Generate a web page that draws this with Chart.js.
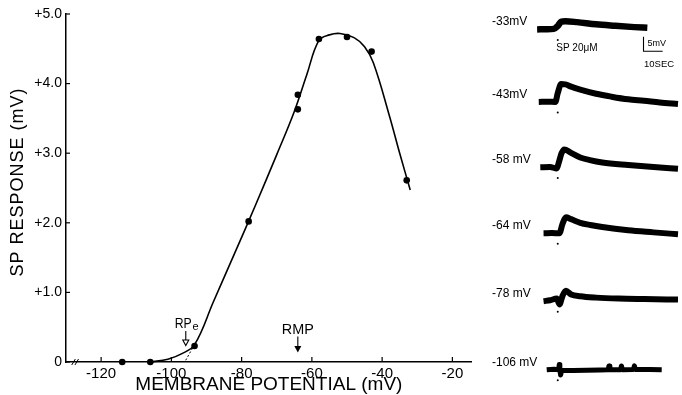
<!DOCTYPE html>
<html><head><meta charset="utf-8">
<script src="https://cdn.jsdelivr.net/npm/chart.js@4.4.1/dist/chart.umd.min.js"></script>
<style>
html,body{margin:0;padding:0;background:#fff;}
#wrap{position:relative;width:682px;height:395px;overflow:hidden;background:#fff;}
#main{position:absolute;left:0;top:0;}
#traces{position:absolute;left:490px;top:0;}
</style></head><body>
<div id="wrap"><canvas id="main" width="490" height="395"></canvas><canvas id="traces" width="192" height="395"></canvas></div>
<script>
// ---------- data: main plot ----------
const pointPotentials = [-114, -106, -93.4, -78, -64, -64, -58, -50, -43, -33];
const pointResponses  = [0, 0, 0.23, 2.02, 3.84, 3.63, 4.64, 4.67, 4.46, 2.61];
const curvePotentials = [-106, -101, -97, -93.4, -88, -82, -76, -70, -65, -61.5, -58, -55, -52, -48, -45, -42.5, -38, -35, -32];
const curveResponses  = [0, 0.04, 0.12, 0.25, 0.87, 1.56, 2.26, 2.98, 3.6, 4.12, 4.62, 4.7, 4.72, 4.66, 4.53, 4.3, 3.55, 3.0, 2.47];
const extrapPotentials = [-93.4, -96.2];
const extrapResponses  = [0.25, 0];
const xTickValues = [-120, -100, -80, -60, -40, -20];
const xTickLabels = ['-120', '-100', '-80', '-60', '-40', '-20'];
const yTickValues = [0, 1, 2, 3, 4, 5];
const yTickLabels = ['0', '+1.0', '+2.0', '+3.0', '+4.0', '+5.0'];
const xTitle = 'MEMBRANE POTENTIAL (mV)';
const yTitle = 'SP RESPONSE (mV)';
const rpeAt = -95.9;
const rmpAt = -64;
const axisBreakAt = -127.4;

// ---------- data: traces (t in s from SP application, mV change) ----------
const traceLabels = ['-33mV', '-43mV', '-58 mV', '-64 mV', '-78 mV', '-106 mV'];
const tr33T = [-10.75, -6, -2, 0, 1.75, 4, 10, 20, 30, 40, 46.75];
const tr33V = [0, 0.1, 0.2, 1.2, 2.6, 2.8, 2.5, 1.75, 1.25, 0.8, 0.55];
const tr43T = [-9.9, -5, -1.25, 0, 1.75, 4, 7, 11.75, 20, 28, 36.75, 45, 53.25, 62.75];
const tr43V = [0, 0.1, 0, 3, 6.1, 6.0, 5.2, 4.2, 2.8, 1.8, 0.9, 0.4, -0.17, -0.67];
const tr58T = [-9.1, -4, -0.5, 0.5, 2, 3.4, 6.75, 11.75, 16.75, 23.25, 36.75, 50, 62.75];
const tr58V = [0, 0.1, -0.4, 1.5, 4.8, 6.1, 5.0, 3.33, 2.47, 1.67, 0.8, 0.1, -0.5];
const tr64T = [-7.4, -3, 0.9, 2.5, 4.25, 7, 11.75, 17, 23.25, 36.75, 50, 62.75];
const tr64V = [0, 0.05, 0, 3.2, 5.43, 4.8, 3.57, 2.8, 2.1, 1.0, 0.3, -0.33];
const tr78T = [-7.4, -4, -0.5, 0.9, 2.5, 4.25, 7, 11.75, 20, 31.75, 45, 62.75];
const tr78V = [0, 0.3, 0.9, -1.13, 1.8, 3.53, 2.3, 1.67, 1.2, 0.87, 0.7, 0.53];
const tr106T = [-5.75, -2, 0.5, 0.8, 1.1, 1.5, 2.0, 8, 15, 22, 26.3, 26.75, 27.2, 32.8, 33.25, 33.7, 39.5, 40, 40.5, 48, 54.25];
const tr106V = [0, 0.2, 0, 1.8, 0, -1.8, -0.3, -0.3, -0.2, -0.1, 0, 1.3, 0, 0, 1.3, 0, 0.1, 1.3, 0.1, 0.1, 0];
const scaleBarMv = 5;
const scaleBarSec = 10;
const scaleBarLabels = ['5mV', '10SEC'];
const agentLabel = 'SP 20\u03bcM';

// ---------- layout (not data) ----------
const FONT = '"Liberation Sans", Arial, Helvetica, sans-serif';
const traceBaselinePx = [26, 100, 166.7, 234, 303.3, 373.3];
const tracePxPerMv = 3;
const traceCanvasH = 395;
const traceYMax = traceCanvasH / tracePxPerMv;
const rowOffset = traceBaselinePx.map(p => (traceCanvasH - p) / tracePxPerMv);
const scaleBarT0 = 44.75;
const scaleBarY0 = (traceCanvasH - 48.3) / tracePxPerMv;
const stimDotMv = -3.6;

const toXY = (xs, ys) => xs.map((x, i) => ({x: x, y: ys[i]}));

// ---------- main chart ----------
const mainDecor = {
  id: 'mainDecor',
  afterDraw(chart) {
    const {ctx, chartArea: a, scales: {x, y}} = chart;
    ctx.save();
    ctx.strokeStyle = '#000'; ctx.fillStyle = '#000'; ctx.lineWidth = 1.2;
    xTickValues.forEach(v => {
      const px = x.getPixelForValue(v);
      ctx.beginPath(); ctx.moveTo(px, a.bottom); ctx.lineTo(px, a.bottom - 5); ctx.stroke();
    });
    yTickValues.forEach(v => {
      const py = y.getPixelForValue(v);
      ctx.beginPath(); ctx.moveTo(a.left - 1, py); ctx.lineTo(a.left + 4, py); ctx.stroke();
    });
    // axis break marks
    const bx = x.getPixelForValue(axisBreakAt);
    ctx.lineWidth = 1;
    [-1.6, 1.6].forEach(d => {
      ctx.beginPath(); ctx.moveTo(bx + d - 1.8, a.bottom + 3); ctx.lineTo(bx + d + 1.8, a.bottom - 3); ctx.stroke();
    });
    // titles
    ctx.textAlign = 'center'; ctx.textBaseline = 'middle';
    ctx.font = '19px ' + FONT;
    ctx.fillText(xTitle, (a.left + a.right) / 2, a.bottom + 23, 268);
    ctx.save();
    ctx.translate(18.5, (a.top + a.bottom) / 2 - 6);
    ctx.rotate(-Math.PI / 2);
    ctx.font = '18px ' + FONT;
    ctx.letterSpacing = '1px';
    ctx.fillText(yTitle, 0, 0);
    ctx.restore();
    // RPe marker
    const rx = x.getPixelForValue(rpeAt);
    const b = y.getPixelForValue(0);
    ctx.lineWidth = 1.1;
    ctx.beginPath(); ctx.moveTo(rx, b - 31); ctx.lineTo(rx, b - 22); ctx.stroke();
    ctx.beginPath(); ctx.moveTo(rx - 3, b - 22); ctx.lineTo(rx + 3, b - 22); ctx.lineTo(rx, b - 16.5); ctx.closePath();
    ctx.fillStyle = '#fff'; ctx.fill(); ctx.stroke(); ctx.fillStyle = '#000';
    ctx.textAlign = 'right'; ctx.textBaseline = 'alphabetic';
    ctx.font = '15px ' + FONT;
    ctx.fillText('RP', rx + 6, b - 34.5, 17);
    ctx.textAlign = 'left';
    ctx.font = '11px ' + FONT;
    ctx.fillText('e', rx + 6.8, b - 32);
    // RMP marker
    const mx = x.getPixelForValue(rmpAt);
    ctx.beginPath(); ctx.moveTo(mx, b - 25.5); ctx.lineTo(mx, b - 15); ctx.stroke();
    ctx.beginPath(); ctx.moveTo(mx - 3.5, b - 16); ctx.lineTo(mx + 3.5, b - 16); ctx.lineTo(mx, b - 9.5); ctx.closePath(); ctx.fill();
    ctx.textAlign = 'center';
    ctx.font = '15px ' + FONT;
    ctx.fillText('RMP', mx, b - 28, 32);
    ctx.restore();
  }
};

new Chart(document.getElementById('main'), {
  type: 'scatter',
  data: {
    datasets: [
      {data: toXY(curvePotentials, curveResponses), showLine: true, borderColor: '#000', borderWidth: 1.6,
       pointRadius: 0, tension: 0.4, clip: false},
      {data: toXY(extrapPotentials, extrapResponses), showLine: true, borderColor: '#000', borderWidth: 1,
       borderDash: [2, 2], pointRadius: 0, clip: false},
      {data: toXY(pointPotentials, pointResponses), showLine: false, pointRadius: 3.3,
       pointBackgroundColor: '#000', pointBorderColor: '#000', pointBorderWidth: 0, clip: false}
    ]
  },
  options: {
    responsive: false, animation: false, devicePixelRatio: 1,
    layout: {padding: {top: 14, right: 18.3, left: 0, bottom: 0}},
    plugins: {legend: {display: false}, tooltip: {enabled: false}},
    scales: {
      x: {
        type: 'linear', min: -130, max: -14.5,
        afterBuildTicks: s => { s.ticks = xTickValues.map(v => ({value: v})); },
        afterFit: s => { s.height = 33; },
        grid: {display: false, drawTicks: false},
        border: {display: true, color: '#000', width: 1.5},
        ticks: {color: '#000', padding: 3, font: {size: 15, family: FONT},
                maxRotation: 0, autoSkip: false,
                callback: v => xTickLabels[xTickValues.indexOf(v)]}
      },
      y: {
        type: 'linear', min: 0, max: 5,
        afterBuildTicks: s => { s.ticks = yTickValues.map(v => ({value: v})); },
        afterFit: s => { s.width = 66; },
        grid: {display: false, drawTicks: false},
        border: {display: true, color: '#000', width: 1.5},
        ticks: {color: '#000', padding: 4, font: {size: 14, family: FONT}, autoSkip: false,
                callback: v => yTickLabels[yTickValues.indexOf(v)]}
      }
    }
  },
  plugins: [mainDecor]
});

// ---------- trace chart ----------
const traceSets = [[tr33T, tr33V], [tr43T, tr43V], [tr58T, tr58V], [tr64T, tr64V], [tr78T, tr78V], [tr106T, tr106V]];
const traceDatasets = traceSets.map(([ts, vs], i) => ({
  data: ts.map((t, j) => ({x: t, y: vs[j] + rowOffset[i]})),
  showLine: true, borderColor: '#000', borderWidth: i === 0 ? 6.5 : (i === 5 ? 5 : 6), pointRadius: 0,
  cubicInterpolationMode: i === 5 ? 'default' : 'monotone', tension: 0,
  borderJoinStyle: 'round', clip: false
}));
traceDatasets.push({
  data: rowOffset.map(o => ({x: 0, y: o + stimDotMv})),
  showLine: false, pointRadius: 1, pointBackgroundColor: '#000', pointBorderWidth: 0, clip: false
});
traceDatasets.push({
  data: [{x: scaleBarT0, y: scaleBarY0 + scaleBarMv}, {x: scaleBarT0, y: scaleBarY0}, {x: scaleBarT0 + scaleBarSec, y: scaleBarY0}],
  showLine: true, borderColor: '#000', borderWidth: 1.1, pointRadius: 0, tension: 0, clip: false
});

const traceDecor = {
  id: 'traceDecor',
  afterDraw(chart) {
    const {ctx, scales: {x, y}} = chart;
    ctx.save();
    ctx.fillStyle = '#000';
    ctx.textBaseline = 'middle'; ctx.textAlign = 'left';
    ctx.font = '12px ' + FONT;
    traceLabels.forEach((lab, i) => {
      ctx.fillText(lab, 2, y.getPixelForValue(rowOffset[i]) - 7.5);
    });
    ctx.font = '10px ' + FONT;
    ctx.fillText(agentLabel, x.getPixelForValue(0) - 1.5, y.getPixelForValue(rowOffset[0]) + 19);
    const sx = x.getPixelForValue(scaleBarT0);
    const sy = y.getPixelForValue(scaleBarY0);
    ctx.font = '9px ' + FONT;
    ctx.fillText(scaleBarLabels[0], sx + 4, sy - 7.5);
    ctx.font = '9.5px ' + FONT;
    ctx.fillText(scaleBarLabels[1], sx + 0.5, sy + 13);
    ctx.restore();
  }
};

new Chart(document.getElementById('traces'), {
  type: 'scatter',
  data: {datasets: traceDatasets},
  options: {
    responsive: false, animation: false, devicePixelRatio: 1,
    layout: {padding: 0},
    plugins: {legend: {display: false}, tooltip: {enabled: false}},
    scales: {
      x: {type: 'linear', display: false, min: -33.25, max: 62.75},
      y: {type: 'linear', display: false, min: 0, max: traceYMax}
    }
  },
  plugins: [traceDecor]
});
</script>
</body></html>
